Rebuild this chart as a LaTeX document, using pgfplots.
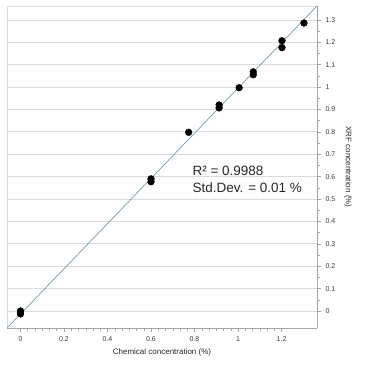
\documentclass[border=0pt]{standalone}
\usepackage{fontspec}
\setmainfont{Liberation Sans}
\usepackage{pgfplots}
\pgfplotsset{compat=1.18}
\definecolor{fitline}{RGB}{118,155,172}
\definecolor{gridc}{RGB}{220,220,220}
\definecolor{axisc}{RGB}{165,165,165}
\definecolor{ticklab}{RGB}{60,60,60}
\begin{document}
\begin{tikzpicture}
\useasboundingbox (-7pt,-37pt) rectangle (359pt,328pt);
\begin{axis}[
  scale only axis,
  width=310pt, height=322pt,
  xmin=-0.062, xmax=1.363,
  ymin=-0.076, ymax=1.362,
  axis x line=bottom,
  axis y line=right,
  axis line style={axisc, line width=0.6pt, -},
  xtick={0,0.2,0.4,0.6,0.8,1,1.2},
  xticklabels={0,0.2,0.4,0.6,0.8,1,1.2},
  ytick={0,0.1,0.2,0.3,0.4,0.5,0.6,0.7,0.8,0.9,1,1.1,1.2,1.3},
  yticklabels={0,0.1,0.2,0.3,0.4,0.5,0.6,0.7,0.8,0.9,1,1.1,1.2,1.3},
  minor x tick num=5,
  minor y tick num=1,
  tick align=outside,
  major tick length=4pt,
  minor tick length=2.5pt,
  tick style={axisc, line width=0.5pt},
  ymajorgrids,
  major grid style={gridc, line width=0.7pt},
  tick label style={font=\fontsize{7}{8}\selectfont, text=ticklab},
  xticklabel style={yshift=-1pt},
  yticklabel style={xshift=1pt},
  label style={font=\fontsize{8}{9}\selectfont, text=black!85},
  xlabel={Chemical concentration (\%)},
  xlabel style={at={(rel axis cs:0.5,-0.077)}, anchor=center},
  ylabel={XRF concentration (\%)},
  ylabel style={at={(rel axis cs:1.1,0.5)}, anchor=center, rotate=180},
  clip=true,
]
\draw[gridc, line width=0.8pt] (rel axis cs:0,0) -- (rel axis cs:0,1) -- (rel axis cs:1,1);
\addplot[fitline, line width=0.7pt, no marks] coordinates {(-0.062,-0.076) (1.363,1.362)};
\addplot[only marks, mark=*, mark size=3.4pt, black] coordinates {
  (0,0) (0,-0.005) (0,-0.013)
  (0.6,0.59) (0.6,0.577)
  (0.773,0.798)
  (0.913,0.92) (0.913,0.907)
  (1.005,0.997)
  (1.07,1.068) (1.07,1.055)
  (1.202,1.207) (1.202,1.176)
  (1.303,1.286)
};
\node[anchor=base west, inner sep=0pt, font=\fontsize{13.5}{15}\selectfont, text=black!85] at (axis cs:0.79,0.603) {R² = 0.9988};
\node[anchor=base west, inner sep=0pt, font=\fontsize{13.5}{15}\selectfont, text=black!85] at (axis cs:0.79,0.527) {Std.Dev. = 0.01 \%};
\end{axis}
\end{tikzpicture}
\end{document}
